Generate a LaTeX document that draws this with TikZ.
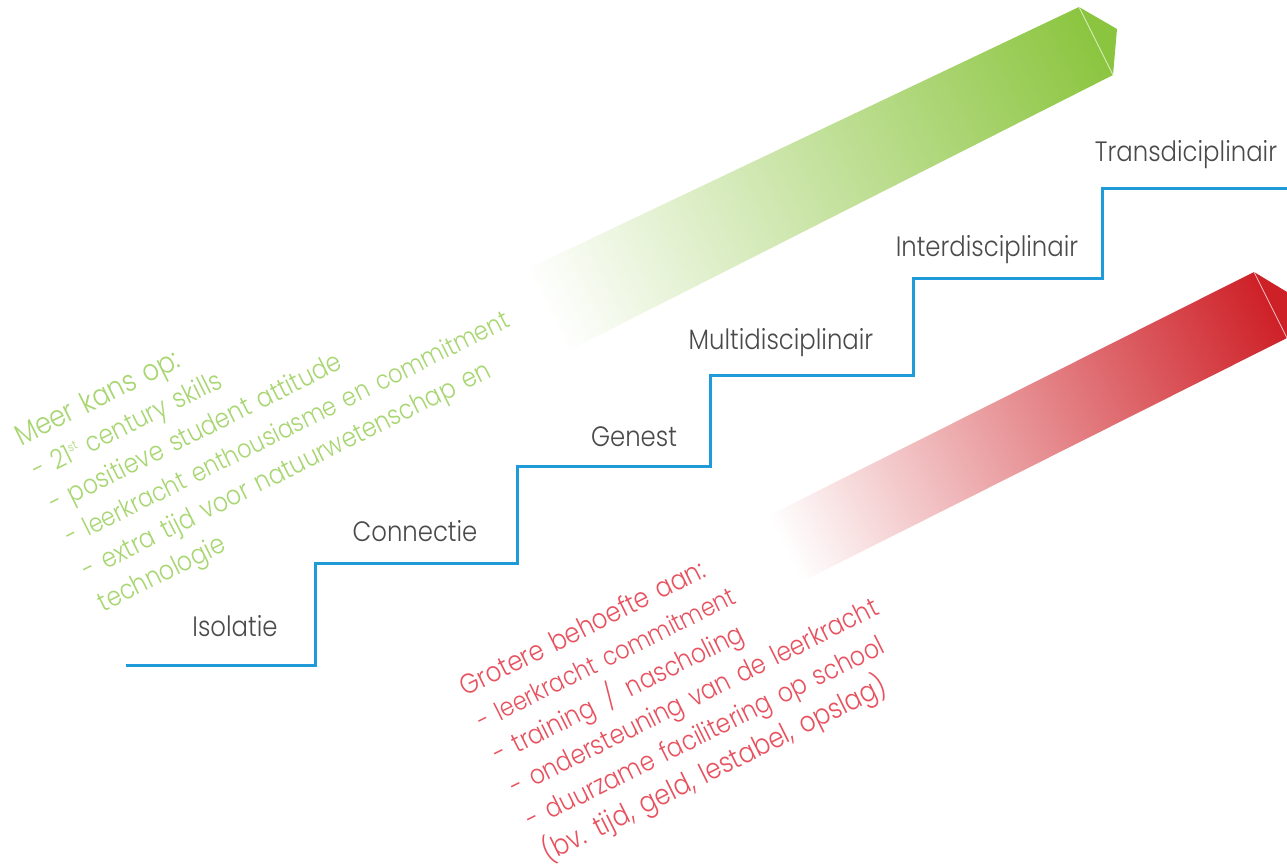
\documentclass[tikz,border=0pt]{standalone}
\usepackage{fontspec}
\setmainfont{Poppins Light}[FakeStretch=0.87,WordSpace=1.4]
\definecolor{stairblue}{HTML}{1F9BD9}
\definecolor{labelgrey}{HTML}{4A4A4A}
\definecolor{bandgreen}{HTML}{8BC53F}
\definecolor{bandred}{HTML}{CE2027}
\definecolor{textgreen}{HTML}{A8D672}
\definecolor{textred}{HTML}{E7525F}
\newcommand{\linesize}[1]{\fontsize{#1}{37}\selectfont}
\tikzset{
  stairline/.style={draw=stairblue,line width=3pt,line join=miter},
  steplabel/.style={text=labelgrey,font=\fontsize{28}{32}\selectfont,inner sep=0pt,anchor=center},
  slanttext/.style={rotate=26.5,anchor=north west,align=left,inner sep=0pt,font=\fontsize{27}{37}\selectfont},
}
\begin{document}
\begin{tikzpicture}[x=1pt,y=-1pt]
\useasboundingbox (0,0) rectangle (1287,865);
% green band
\begin{scope}
  \clip (525,270) -- (1079,7) -- (1113,75) -- (560,355) -- cycle;
  \shade[transform canvas={shift={(535,290)},rotate=26.5},left color=white,right color=bandgreen] (0,-150) rectangle (615,150);
\end{scope}
\fill[bandgreen] (1079,7) -- (1117,29) -- (1113,75) -- cycle;
\draw[white!70!bandgreen,line width=0.7pt] (1079,7) -- (1113,75);
% red band
\begin{scope}
  \clip (760,520) -- (1254,272) -- (1287,338) -- (795,585) -- cycle;
  \shade[transform canvas={shift={(775,530)},rotate=26.5},left color=white,right color=bandred] (0,-150) rectangle (545,150);
\end{scope}
\fill[bandred] (1254,272) -- (1287,292) -- (1287,338) -- cycle;
\draw[white!70!bandred,line width=0.7pt] (1254,272) -- (1287,338);
% stairs
\coordinate (s0) at (126,665);
\coordinate (s1) at (315,563);
\coordinate (s2) at (517,466);
\coordinate (s3) at (710,375);
\coordinate (s4) at (913,278);
\coordinate (s5) at (1102,188);
\coordinate (s6) at (1287,188);
\draw[stairline] (s0) -| (s1) -| (s2) -| (s3) -| (s4) -| (s5) -- (s6);
% step labels
\node[steplabel] (isolatie) at (235,626) {Isolatie};
\node[steplabel] (connectie) at (415,531) {Connectie};
\node[steplabel] (genest) at (634,437) {Genest};
\node[steplabel] (multi) at (781,343) {Multidisciplinair};
\node[steplabel] (inter) at (987,250) {Interdisciplinair};
\node[steplabel] (trans) at (1186,155) {Transdiciplinair};
% slanted texts
\node[slanttext,text=textgreen] (kans) at (11,427) {{\linesize{29.5}Meer kans op:}\\- 21{\fontsize{12}{12}\selectfont\raisebox{10pt}{st}} century skills\\- positieve student attitude\\{\linesize{25.9}- leerkracht enthousiasme en commitment}\\- extra tijd voor natuurwetenschap en\\technologie};
\node[slanttext,text=textred] (behoefte) at (456,678) {{\linesize{27.8}Grotere behoefte aan:}\\{\linesize{25.7}- leerkracht commitment}\\- training\, / \,nascholing\\- ondersteuning van de leerkracht\\- duurzame facilitering op school\\{\linesize{28.4}(bv. tijd, geld, lestabel, opslag)}};
\end{tikzpicture}
\end{document}
